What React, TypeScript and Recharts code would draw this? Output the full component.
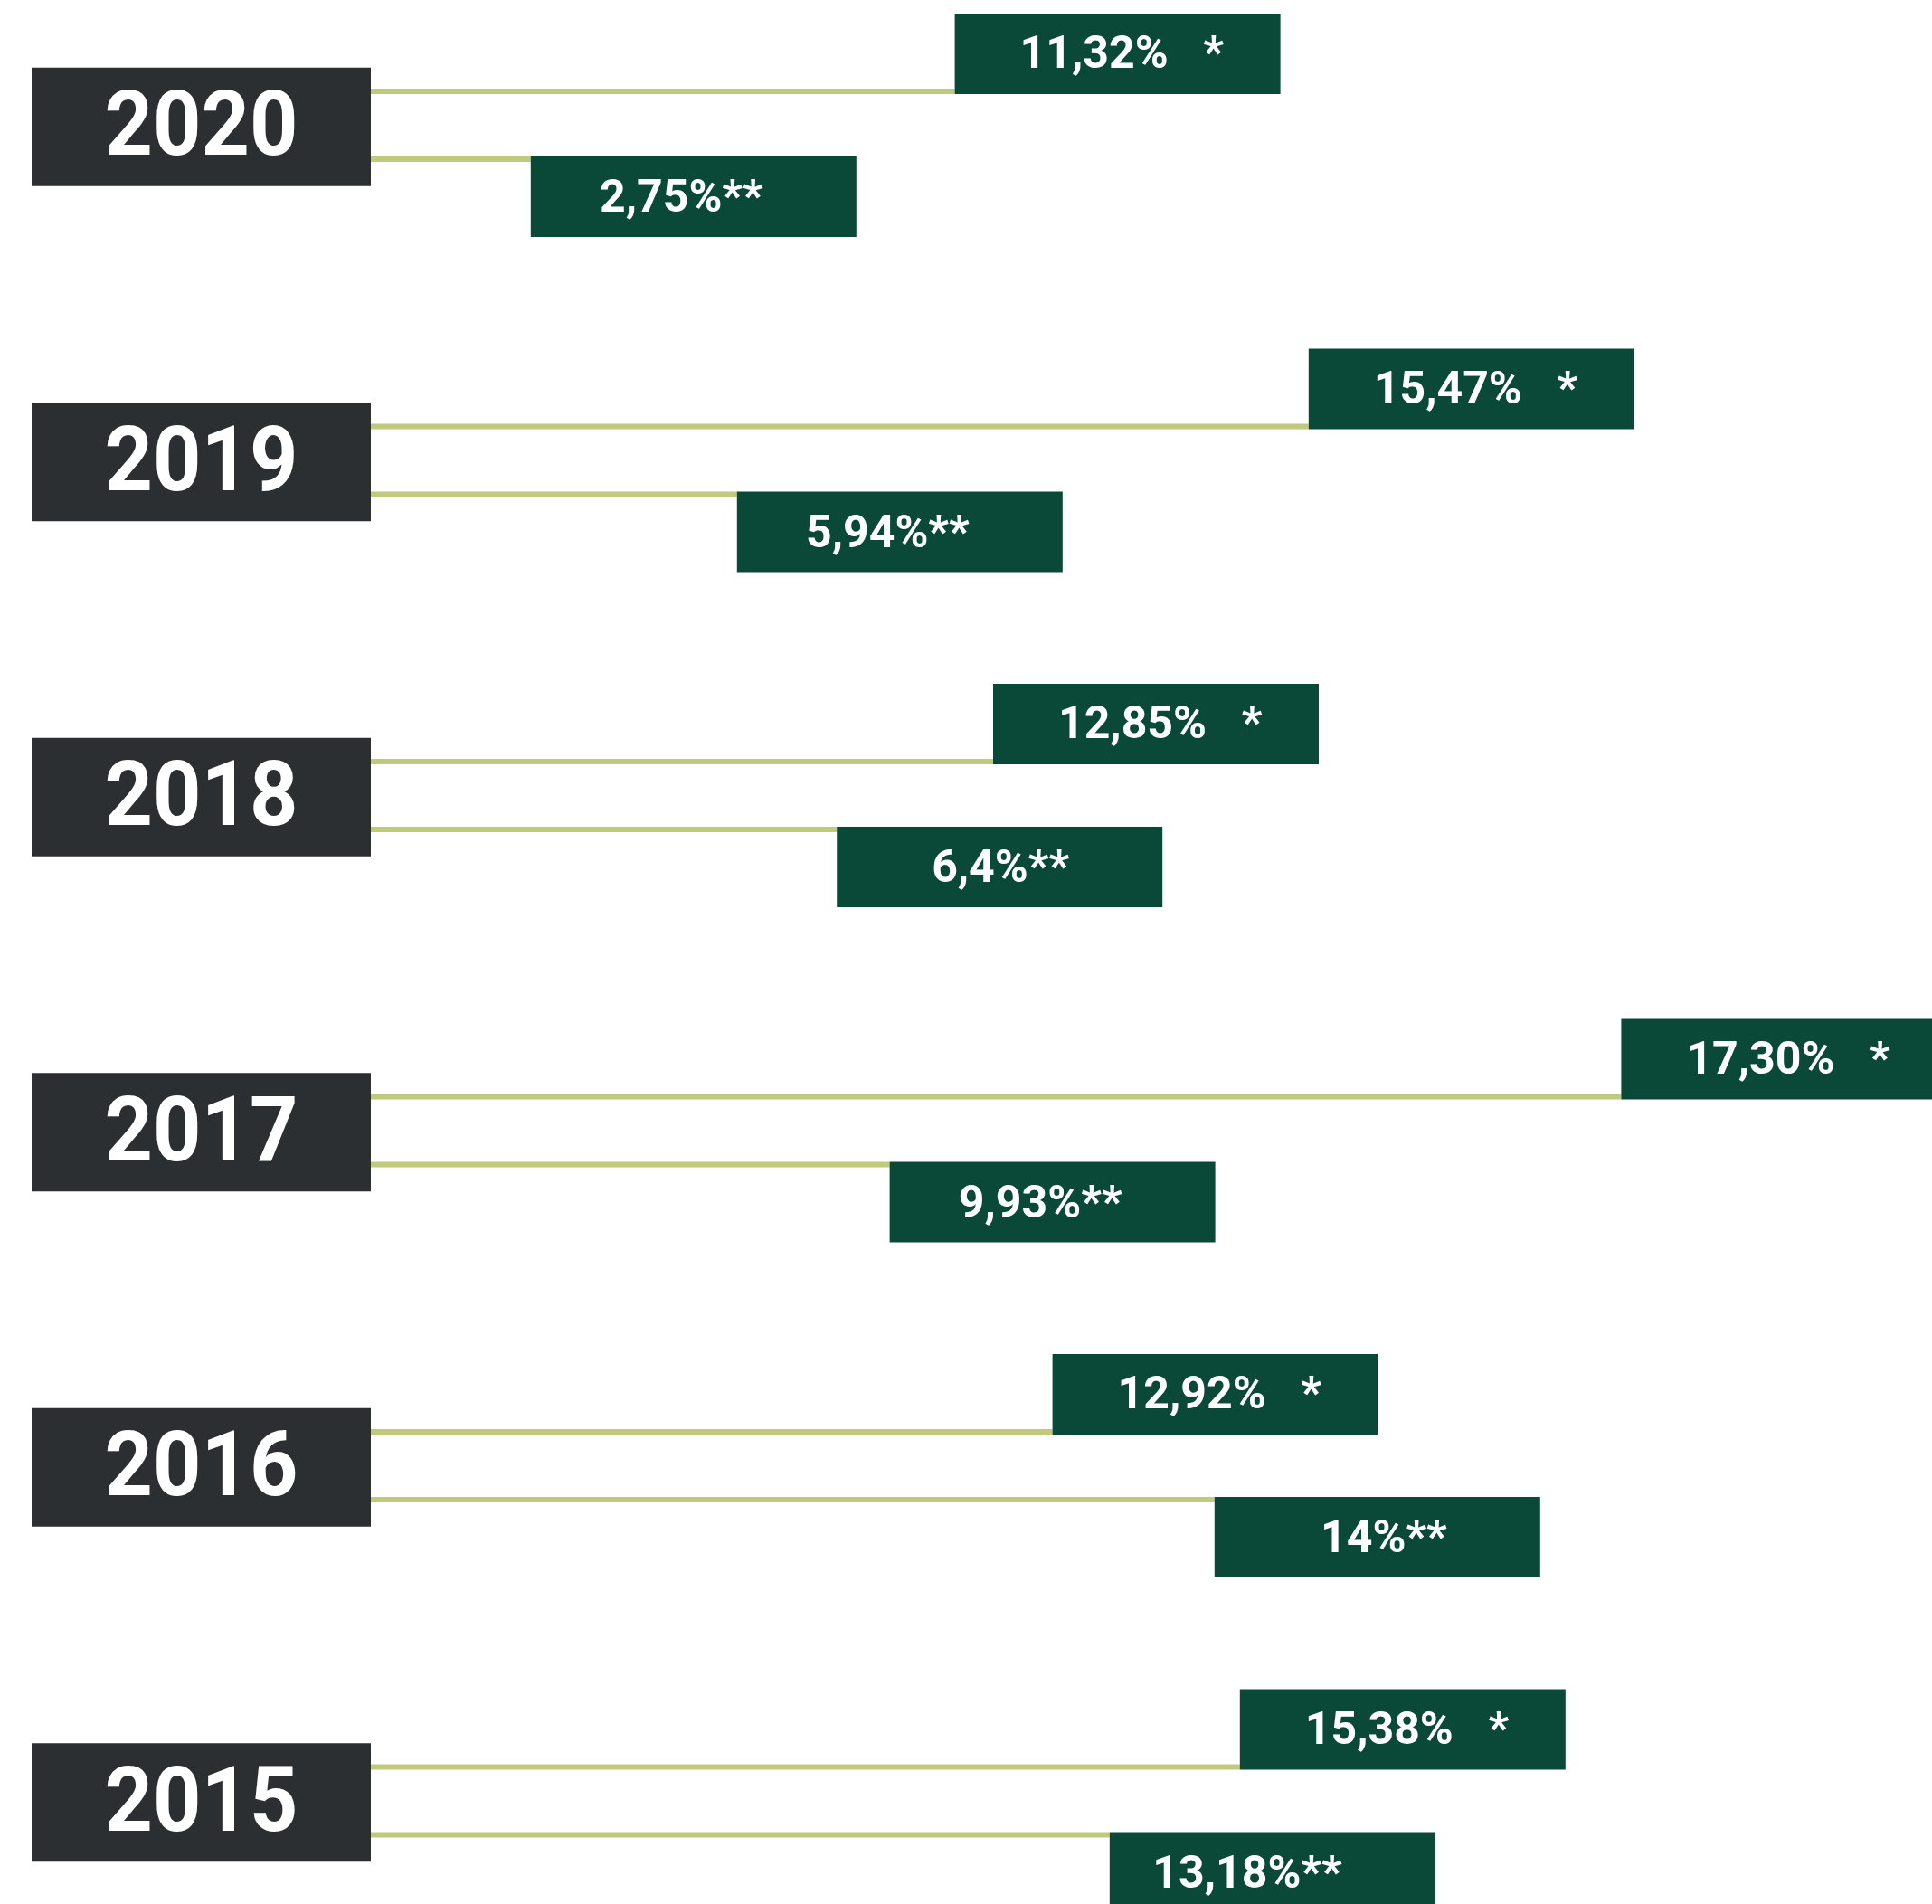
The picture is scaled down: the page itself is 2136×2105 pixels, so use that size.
import React from 'react';
import { BarChart, Bar, XAxis, YAxis, LabelList } from 'recharts';

// Categories (top to bottom)
const years = ['2020', '2019', '2018', '2017', '2016', '2015'];

// Upper line of each year (label with single asterisk): drawn line length
const singleStarLength = [8.07, 12.96, 8.6, 17.28, 9.42, 12.01];
const singleStarLabel = ['11,32%', '15,47%', '12,85%', '17,30%', '12,92%', '15,38%'];

// Lower line of each year (label with double asterisk)
const doubleStarLength = [2.21, 5.06, 6.44, 7.17, 11.66, 10.21];
const doubleStarLabel = ['2,75%**', '5,94%**', '6,4%**', '9,93%**', '14%**', '13,18%**'];

const data = years.map((y, i) => ({
  year: y,
  single: singleStarLength[i],
  singleLabel: singleStarLabel[i],
  double: doubleStarLength[i],
  doubleLabel: doubleStarLabel[i],
}));

const FONT = 'Roboto, "DejaVu Sans", sans-serif';
const LINE = '#bfca7c';
const BOX_GREEN = '#0a4937';
const BOX_DARK = '#2c2f32';
const BOX_W = 360;
const BOX_H = 89;

const YearTick = (props: any) => {
  const { x, y, payload } = props;
  return (
    <g>
      <rect x={x - 375} y={y - 63.5} width={375} height={131} fill={BOX_DARK} />
      <text
        x={x - 187.5}
        y={y + 33}
        textAnchor="middle"
        fill="#ffffff"
        fontFamily={FONT}
        fontWeight={700}
        fontSize={101}
        textLength={214}
        lengthAdjust="spacingAndGlyphs"
      >
        {payload.value}
      </text>
    </g>
  );
};

const getBox = (props: any) => {
  const vb = props.viewBox || {};
  const x = props.x ?? vb.x;
  const y = props.y ?? vb.y;
  const width = props.width ?? vb.width;
  const height = props.height ?? vb.height;
  return { x: Number(x), y: Number(y), width: Number(width), height: Number(height) };
};

const TopLabel = (props: any) => {
  const { x, y, width, height } = getBox(props);
  const bx = x + width;
  const by = y + height - BOX_H;
  return (
    <g>
      <rect x={bx} y={by} width={BOX_W} height={BOX_H} fill={BOX_GREEN} />
      <text x={bx + 72} y={by + 60} fill="#ffffff" fontFamily={FONT} fontWeight={700} fontSize={50}>
        {props.value}
      </text>
      <text x={bx + 286} y={by + 60} textAnchor="middle" fill="#ffffff" fontFamily={FONT} fontWeight={700} fontSize={50}>
        *
      </text>
    </g>
  );
};

const BottomLabel = (props: any) => {
  const { x, y, width } = getBox(props);
  const bx = x + width;
  const by = y;
  return (
    <g>
      <rect x={bx} y={by} width={BOX_W} height={BOX_H} fill={BOX_GREEN} />
      <text x={bx + 257} y={by + 61} textAnchor="end" fill="#ffffff" fontFamily={FONT} fontWeight={700} fontSize={50}>
        {props.value}
      </text>
    </g>
  );
};

export default function App() {
  return (
    <div
      style={{
        position: 'absolute',
        left: 0,
        top: 0,
        width: 2136,
        height: 2105,
        overflow: 'hidden',
        background: '#ffffff',
      }}
    >
      <div style={{ position: 'absolute', left: 0, top: -47 }}>
        <BarChart
          layout="vertical"
          width={2136}
          height={2223}
          data={data}
          margin={{ top: 0, right: 126, bottom: 0, left: 0 }}
          barSize={6}
          barGap={69}
          barCategoryGap={0}
        >
          <XAxis type="number" domain={[0, 20]} hide />
          <YAxis
            type="category"
            dataKey="year"
            width={410}
            tickSize={0}
            tickMargin={0}
            axisLine={false}
            tickLine={false}
            interval={0}
            tick={<YearTick />}
          />
          <Bar dataKey="single" fill={LINE} isAnimationActive={false}>
            <LabelList dataKey="singleLabel" content={<TopLabel />} />
          </Bar>
          <Bar dataKey="double" fill={LINE} isAnimationActive={false}>
            <LabelList dataKey="doubleLabel" content={<BottomLabel />} />
          </Bar>
        </BarChart>
      </div>
    </div>
  );
}
